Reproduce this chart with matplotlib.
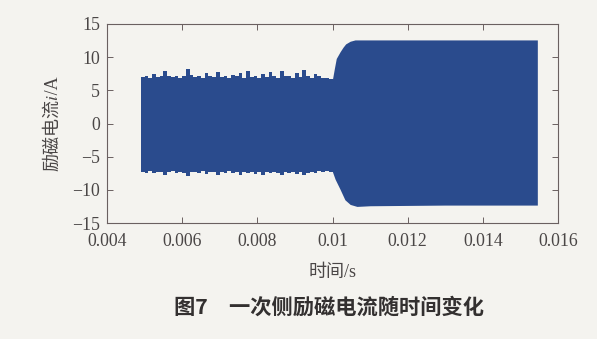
import matplotlib
matplotlib.use('Agg')
import numpy as np
import matplotlib.pyplot as plt

# excitation current envelope, steady part (t from 0.0049 s, step 0.0001 s)
t_steady_start = 0.0049
t_steady_step = 0.0001
upper_steady = [7.0, 7.1, 6.9, 7.5, 7.0, 7.1, 7.9, 7.2, 7.0, 7.1, 6.9, 7.1, 8.2, 7.3, 7.0, 7.1, 6.9,
                7.6, 7.1, 7.0, 7.8, 7.0, 7.1, 6.9, 7.3, 7.1, 7.6, 6.9, 7.9, 7.0, 7.1, 6.9, 7.4, 7.0,
                7.7, 7.1, 6.9, 7.9, 7.1, 7.2, 6.9, 7.6, 7.0, 8.0, 7.2, 6.9, 7.4, 7.1, 6.9, 6.8, 6.7, 6.7]
lower_steady = [-7.3, -7.4, -7.2, -7.5, -7.3, -7.3, -7.8, -7.3, -7.2, -7.4, -7.3, -7.5, -7.9, -7.3,
                -7.3, -7.4, -7.2, -7.6, -7.3, -7.3, -7.7, -7.3, -7.4, -7.2, -7.5, -7.3, -7.8, -7.3,
                -7.4, -7.3, -7.6, -7.3, -7.7, -7.3, -7.4, -7.3, -7.5, -7.8, -7.3, -7.4, -7.3, -7.6,
                -7.3, -7.7, -7.4, -7.3, -7.4, -7.2, -7.3, -7.2, -7.3, -7.3]

# envelope across and after the transition
t_trans = [0.0100, 0.01005, 0.0101, 0.0102, 0.01028, 0.01035, 0.01047, 0.0106, 0.0110, 0.0130, 0.01545]
upper_trans = [6.7, 8.3, 9.8, 10.8, 11.5, 12.0, 12.4, 12.6, 12.6, 12.6, 12.6]
t_trans_lo = [0.0100, 0.01007, 0.0102, 0.01033, 0.01047, 0.01065, 0.0110, 0.0130, 0.01545]
lower_trans = [-7.3, -8.4, -9.9, -11.5, -12.2, -12.5, -12.4, -12.3, -12.3]

x_ticks = [0.004, 0.006, 0.008, 0.010, 0.012, 0.014, 0.016]
x_labels = ['0.004', '0.006', '0.008', '0.01', '0.012', '0.014', '0.016']
y_ticks = [-15, -10, -5, 0, 5, 10, 15]
y_labels = ['\u221215', '\u221210', '\u22125', '0', '5', '10', '15']

bg = '#f4f3ef'
blue = '#2a4b8d'
txt = '#4a4646'
serif = ['Liberation Serif', 'Noto Sans CJK SC', 'STIXGeneral']

fig = plt.figure(figsize=(5.97, 3.39), dpi=100, facecolor=bg)
ax = fig.add_axes([107/597, 1-223/339, (558-107)/597, (223-24)/339])
ax.set_facecolor(bg)

t_steady = t_steady_start + t_steady_step*np.arange(len(upper_steady))
ax.fill_between(t_steady, lower_steady, upper_steady, step='post', color=blue, lw=0)
ax.fill_between(t_trans, upper_trans, 0, color=blue, lw=0)
ax.fill_between(t_trans_lo, lower_trans, 0, color=blue, lw=0)

ax.set_xlim(0.004, 0.016)
ax.set_ylim(-15, 15)
ax.set_xticks(x_ticks)
ax.set_xticklabels(x_labels)
ax.set_yticks(y_ticks)
ax.set_yticklabels(y_labels)
ax.tick_params(direction='in', length=4, width=0.7, color='#6a6060',
               top=True, right=True, labelsize=12.8, labelcolor=txt)
ax.tick_params(axis='x', pad=7)
ax.tick_params(axis='y', pad=5)
for lab in ax.get_xticklabels() + ax.get_yticklabels():
    lab.set_family(serif)
for s in ax.spines.values():
    s.set_color('#6a6060')
    s.set_linewidth(0.8)

# italic i taken from STIX (mathematical italic small i)
ax.set_xlabel('时间/s', family=serif, fontsize=13, color=txt, va='top')
ax.xaxis.set_label_coords(0.5, (223-264)/199)
ax.set_ylabel('励磁电流\U0001D456/A', family=serif, fontsize=13, color=txt)
ax.yaxis.set_label_coords((61-107)/451, 0.5)

fig.text(329/597, 1-307/339, '图7　一次侧励磁电流随时间变化', ha='center', va='center',
         family=['Noto Sans CJK SC', 'DejaVu Sans'], fontsize=15.3, fontweight='bold', color='#333030')

fig.savefig('out.png', dpi=100, facecolor=bg)
